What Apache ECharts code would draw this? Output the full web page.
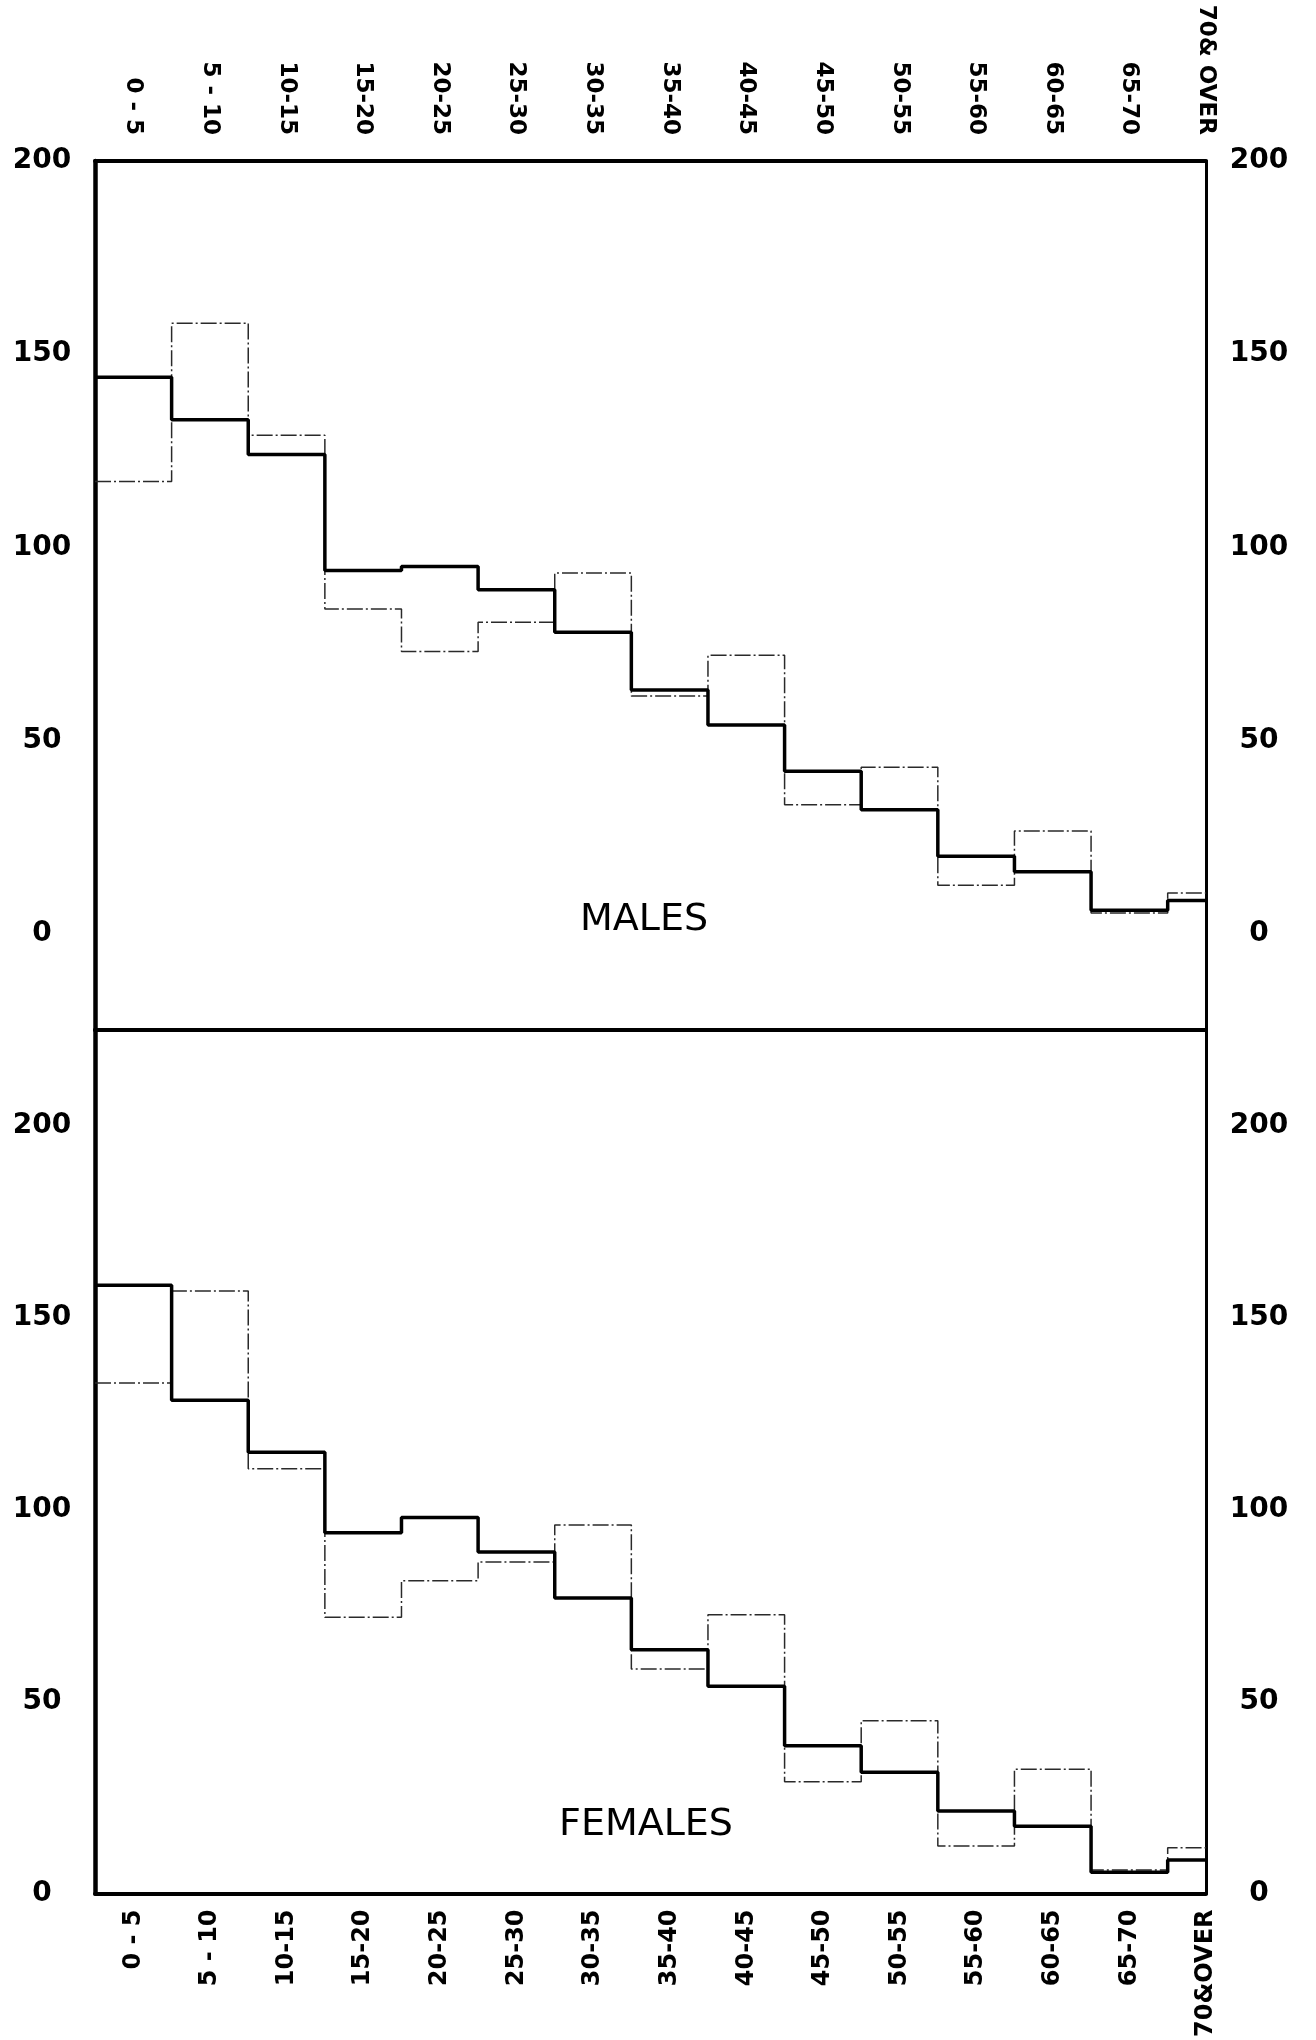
<!DOCTYPE html>
<html>
<head>
<meta charset="utf-8">
<script src="https://cdn.jsdelivr.net/npm/echarts@6/dist/echarts.min.js"></script>
<style>
  html, body { margin: 0; padding: 0; background: #ffffff; }
  #chart { width: 1316px; height: 2040px; }
</style>
</head>
<body>
<div id="chart"></div>
<script>
// ---- Data ----
const ageLabelsTop = ['0 - 5', '5 - 10', '10-15', '15-20', '20-25', '25-30', '30-35', '35-40', '40-45', '45-50', '50-55', '55-60', '60-65', '65-70', '70& OVER'];
const ageLabelsBottom = ['0 - 5', '5 - 10', '10-15', '15-20', '20-25', '25-30', '30-35', '35-40', '40-45', '45-50', '50-55', '55-60', '60-65', '65-70', '70&OVER'];
const binStarts = [0, 5, 10, 15, 20, 25, 30, 35, 40, 45, 50, 55, 60, 65, 70];
const ageAxisMax = 72.5;
const yTickValues = [0, 50, 100, 150, 200];

const malesSolid  = [144, 133, 124, 94, 95, 89, 78, 63, 54, 42, 32, 20, 16, 6, 8.5];
const malesDashed = [117, 158, 129, 84, 73, 80.6, 93.3, 61.5, 72, 33.3, 43, 12.5, 26.5, 5.3, 10.5];
const femalesSolid  = [158.5, 128.5, 115, 94, 98, 89, 77, 63.5, 54, 38.5, 31.6, 21.5, 17.5, 5.5, 8.7];
const femalesDashed = [133, 157, 110.7, 72, 81.5, 86.4, 96, 58.5, 72.6, 29.1, 45, 12.4, 32.4, 6.1, 11.9];

// ---- Helpers ----
function stepPoints(values) {
  const pts = [];
  for (let i = 0; i < values.length; i++) {
    const start = binStarts[i];
    const end = i + 1 < binStarts.length ? binStarts[i + 1] : ageAxisMax;
    pts.push([start, values[i]]);
    pts.push([end, values[i]]);
  }
  return pts;
}
function xLabelFormatter(labels) {
  return function (v) {
    for (let i = 0; i < binStarts.length; i++) {
      if (Math.abs(v - (binStarts[i] + 2.5)) < 1e-6) return labels[i];
    }
    return '';
  };
}
function yLabelFormatter(v) {
  return yTickValues.indexOf(Math.round(v * 1000) / 1000) >= 0 ? String(v) : '';
}

const FONT = "'DejaVu Sans', 'Liberation Sans', sans-serif";
const frameLine = (w) => ({ show: true, onZero: false, lineStyle: { color: '#000', width: w } });

function xAxisCfg(gridIndex, position, labels, margin, lineW, fontSize) {
  return {
    type: 'value', gridIndex: gridIndex, position: position,
    min: 0, max: ageAxisMax, interval: 2.5,
    axisLine: frameLine(lineW),
    axisTick: { show: false },
    splitLine: { show: false },
    axisLabel: labels ? {
      show: true, rotate: 90, margin: margin, showMaxLabel: true, showMinLabel: true,
      formatter: xLabelFormatter(labels),
      color: '#000', fontFamily: FONT, fontWeight: 'bold', fontSize: fontSize
    } : { show: false }
  };
}
function yAxisCfg(gridIndex, position, min, max, lineW) {
  return {
    type: 'value', gridIndex: gridIndex, position: position,
    min: min, max: max, interval: 25,
    axisLine: frameLine(lineW),
    axisTick: { show: false },
    splitLine: { show: false },
    axisLabel: {
      show: true, margin: 53, align: 'center', showMaxLabel: true, showMinLabel: true,
      formatter: yLabelFormatter,
      color: '#000', fontFamily: FONT, fontWeight: 'bold', fontSize: 28
    }
  };
}

const solidStyle = { color: '#000', width: 3.5, type: 'solid' };
const dashedStyle = { color: '#2a2a2a', width: 1.5, type: [16, 3, 2, 3] };

const chart = echarts.init(document.getElementById('chart'), null, { renderer: 'canvas' });
chart.setOption({
  animation: false,
  backgroundColor: '#ffffff',
  grid: [
    { left: 95, right: 110, top: 161, height: 869, show: false },
    { left: 95, right: 110, top: 1030, height: 870, show: false }
  ],
  xAxis: [
    xAxisCfg(0, 'top', ageLabelsTop, 26, 4, 23),
    xAxisCfg(0, 'bottom', null, 0, 4, 23),
    xAxisCfg(1, 'bottom', ageLabelsBottom, 16, 4, 24)
  ],
  yAxis: [
    yAxisCfg(0, 'left', -25, 200, 4.5),
    yAxisCfg(0, 'right', -25, 200, 3),
    yAxisCfg(1, 'left', 0, 225, 4.5),
    yAxisCfg(1, 'right', 0, 225, 3)
  ],
  series: [
    { name: 'Males (dashed)', type: 'line', xAxisIndex: 0, yAxisIndex: 0, data: stepPoints(malesDashed),
      symbol: 'none', lineStyle: dashedStyle, z: 2 },
    { name: 'Males (solid)', type: 'line', xAxisIndex: 0, yAxisIndex: 0, data: stepPoints(malesSolid),
      symbol: 'none', lineStyle: solidStyle, z: 3 },
    { name: 'Females (dashed)', type: 'line', xAxisIndex: 2, yAxisIndex: 2, data: stepPoints(femalesDashed),
      symbol: 'none', lineStyle: dashedStyle, z: 2 },
    { name: 'Females (solid)', type: 'line', xAxisIndex: 2, yAxisIndex: 2, data: stepPoints(femalesSolid),
      symbol: 'none', lineStyle: solidStyle, z: 3 }
  ],
  graphic: [
    { type: 'text', x: 644, y: 920, z: 10,
      style: { text: 'MALES', fill: '#000', font: "38px 'DejaVu Sans', sans-serif",
               align: 'center', verticalAlign: 'middle', textAlign: 'center', textVerticalAlign: 'middle' } },
    { type: 'text', x: 646, y: 1825, z: 10,
      style: { text: 'FEMALES', fill: '#000', font: "38px 'DejaVu Sans', sans-serif",
               align: 'center', verticalAlign: 'middle', textAlign: 'center', textVerticalAlign: 'middle' } }
  ]
});
</script>
</body>
</html>
